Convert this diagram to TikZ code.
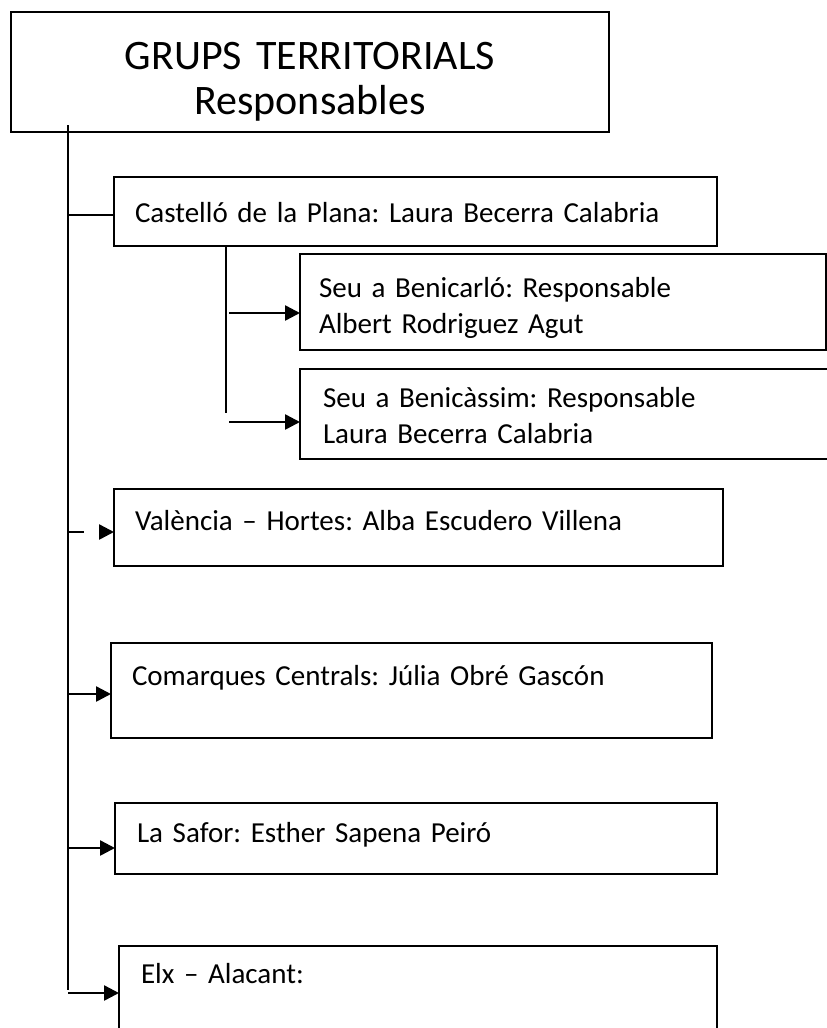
\documentclass[tikz,border=0pt]{standalone}
\usepackage{fontspec}
\setmainfont{Carlito}
\frenchspacing
\usetikzlibrary{positioning, arrows.meta}
\tikzstyle{grupBox}=[draw=black, line width=2pt, anchor=north west, align=left,
  inner ysep=0pt, outer sep=0pt, font=\fontsize{29}{36}\selectfont]
\tikzstyle{trunkLine}=[line width=2.5pt, draw=black]
\tikzstyle{arrow}=[-{Triangle[length=15pt, width=15pt]}, line width=2.5pt, draw=black]

\begin{document}
\begin{tikzpicture}[x=1pt, y=-1pt]
      \useasboundingbox (0,0) rectangle (827,1028);
      \clip (0,0) rectangle (827,1028);

      \node[grupBox, align=center, inner xsep=10pt, text width=578pt,
        text height=57pt, text depth=63pt, font=\fontsize{42}{45}\selectfont]
        (title) at (11,12) {GRUPS TERRITORIALS\\Responsables};

      \node[grupBox, inner xsep=21pt, text width=561pt, text height=45pt, text depth=24pt]
        (castello) at (114,177) {Castelló de la Plana: Laura Becerra Calabria};
      \node[grupBox, inner xsep=19pt, text width=488pt, text height=43pt, text depth=53pt]
        (benicarlo) at (300,254) {Seu a Benicarló: Responsable\\Albert Rodriguez Agut};
      \node[grupBox, inner xsep=23pt, text width=494pt, text height=38pt, text depth=52pt]
        (benicassim) at (300,369) {Seu a Benicàssim: Responsable\\Laura Becerra Calabria};
      \node[grupBox, inner xsep=21pt, text width=567pt, text height=41pt, text depth=36pt]
        (valencia) at (114,489) {València – Hortes: Alba Escudero Villena};
      \node[grupBox, inner xsep=21pt, text width=559pt, text height=42pt, text depth=53pt]
        (comarques) at (111,643) {Comarques Centrals: Júlia Obré Gascón};
      \node[grupBox, inner xsep=22pt, text width=558pt, text height=39pt, text depth=32pt]
        (safor) at (115,803) {La Safor: Esther Sapena Peiró};
      \node[grupBox, inner xsep=22pt, text width=554pt, text height=37pt, text depth=77pt]
        (elx) at (119,946) {Elx – Alacant:};

      % main trunk
      \coordinate (trunkTop) at (68,125);
      \coordinate (trunkEnd) at (68,990);
      \draw[trunkLine] (trunkTop) -- (trunkEnd);
      \coordinate (tcastello) at (68,215);
      \draw[trunkLine] (tcastello) -- (castello.west |- tcastello);

      % sub trunk of Castello
      \coordinate (subEnd) at (226,413);
      \draw[trunkLine] (castello.south -| subEnd) -- (subEnd);
      \coordinate (sbenicarlo) at (229,313);
      \coordinate (sbenicassim) at (229,422);
      \foreach \p in {benicarlo,benicassim}
      \draw[arrow] (s\p) -- (\p.west |- s\p);

      \coordinate (tvalencia) at (68,532);
      \draw[arrow, dash pattern=on 16pt off 40pt] (tvalencia) -- (valencia.west |- tvalencia);

      \coordinate (tcomarques) at (68,694);
      \coordinate (tsafor) at (68,848);
      \coordinate (telx) at (68,993);
      \foreach \p in {comarques,safor,elx}
      \draw[arrow] (t\p) -- (\p.west |- t\p);
    \end{tikzpicture}
\end{document}
